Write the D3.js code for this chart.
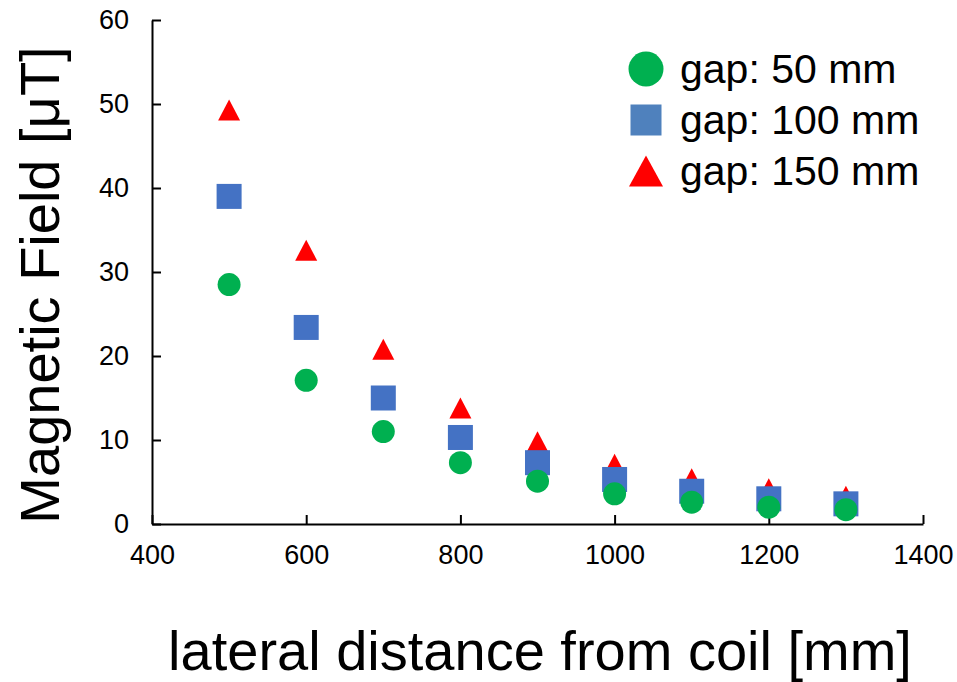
<!DOCTYPE html>
<html>
<head>
<meta charset="UTF-8">
<script src="https://cdn.jsdelivr.net/npm/d3@7"></script>
<style>
  body { margin: 0; background: #fff; }
  svg text { font-family: "Liberation Sans", Arial, sans-serif; fill: #000; }
</style>
</head>
<body>
<svg id="chart" width="957" height="682"></svg>
<script>
// lateral distance [mm]
var distances = [500, 600, 700, 800, 900, 1000, 1100, 1200, 1300];
// magnetic field [uT] per coil gap
var gap50  = [28.5, 17.1, 11.0, 7.3, 5.1, 3.6, 2.6, 2.0, 1.7];
var gap100 = [39.0, 23.4, 15.0, 10.3, 7.3, 5.3, 3.9, 3.0, 2.4];
var gap150 = [49.3, 32.6, 20.8, 13.8, 9.8, 7.1, 5.4, 4.2, 3.3];
var seriesNames = ["gap: 50 mm", "gap: 100 mm", "gap: 150 mm"];
var xTicks = [400, 600, 800, 1000, 1200, 1400];
var yTicks = [0, 10, 20, 30, 40, 50, 60];

var svg = d3.select("#chart");

var x = d3.scaleLinear().domain([400, 1400]).range([152, 923]);
var y = d3.scaleLinear().domain([0, 60]).range([524, 20]);

// axes, ticks point inward
var xAxis = svg.append("g")
  .attr("transform", "translate(0," + y(0) + ")")
  .call(d3.axisBottom(x).tickValues(xTicks).tickFormat(d3.format("d"))
    .tickSizeInner(-9).tickSizeOuter(0).tickPadding(21));
var yAxis = svg.append("g")
  .attr("transform", "translate(" + x(400) + ",0)")
  .call(d3.axisLeft(y).tickValues(yTicks).tickFormat(d3.format("d"))
    .tickSizeInner(-9).tickSizeOuter(0).tickPadding(23));

[xAxis, yAxis].forEach(function(a) {
  a.selectAll("path, line").attr("stroke", "#000").attr("stroke-width", 2);
  a.selectAll("text").attr("font-size", 27).attr("fill", "#000")
    .style("font-family", '"Liberation Sans", Arial, sans-serif');
});

// markers
function triPath(cx, cy, w, h) {
  return "M" + cx + "," + (cy - h / 2) + "L" + (cx + w / 2) + "," + (cy + h / 2) +
         "L" + (cx - w / 2) + "," + (cy + h / 2) + "Z";
}

svg.append("g").selectAll("path")
  .data(gap150).join("path")
  .attr("d", function(d, i) { return triPath(x(distances[i]), y(d), 22, 21); })
  .attr("fill", "#ff0000");

svg.append("g").selectAll("rect")
  .data(gap100).join("rect")
  .attr("x", function(d, i) { return x(distances[i]) - 12.5; })
  .attr("y", function(d) { return y(d) - 12.5; })
  .attr("width", 25).attr("height", 25)
  .attr("fill", "#4472c4");

svg.append("g").selectAll("circle")
  .data(gap50).join("circle")
  .attr("cx", function(d, i) { return x(distances[i]); })
  .attr("cy", function(d) { return y(d); })
  .attr("r", 11.5)
  .attr("fill", "#00b050");

// legend
var legend = svg.append("g").attr("transform", "translate(646,69)");
var rows = legend.selectAll("g").data(seriesNames).join("g")
  .attr("transform", function(d, i) { return "translate(0," + (i * 51) + ")"; });
rows.each(function(d, i) {
  var g = d3.select(this);
  if (i === 0) g.append("circle").attr("r", 17.5).attr("fill", "#00b050");
  if (i === 1) g.append("rect").attr("x", -15.5).attr("y", -15.5).attr("width", 31).attr("height", 31).attr("fill", "#4f81bd");
  if (i === 2) g.append("path").attr("d", triPath(0, 0, 34, 31)).attr("fill", "#ff0000");
  g.append("text").attr("x", 34).attr("y", 14).attr("font-size", 41).text(d);
});

// axis titles
svg.append("text")
  .attr("x", 540).attr("y", 670)
  .attr("text-anchor", "middle")
  .attr("font-size", 56)
  .text("lateral distance from coil [mm]");

svg.append("text")
  .attr("transform", "translate(59,285) rotate(-90)")
  .attr("text-anchor", "middle")
  .attr("font-size", 56)
  .text("Magnetic Field [\u03bcT]");
</script>
</body>
</html>
